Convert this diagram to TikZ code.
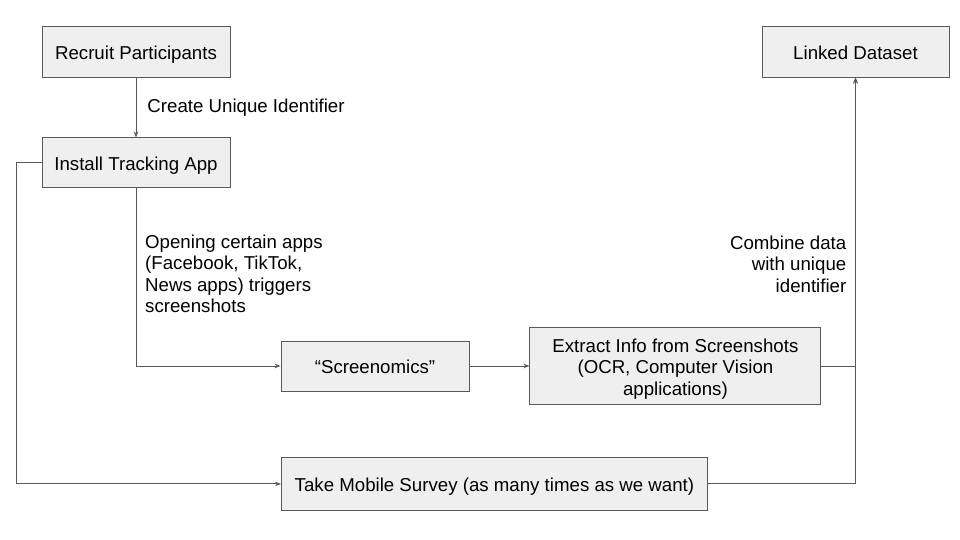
\documentclass[tikz,border=0pt]{standalone}
\usepackage{fontspec}
\setmainfont{Liberation Sans}
\usepackage{xcolor}
\definecolor{BoxGray}{HTML}{EFEFEF}
\definecolor{LineGray}{HTML}{595959}
\usepackage{tikz}
\usetikzlibrary{arrows.meta, positioning}

\begin{document}
\begin{tikzpicture}[
  x=1pt, y=1pt,
  node distance=60pt,
  font=\fontsize{18.67pt}{21.5pt}\selectfont,
  box/.style={rectangle, draw=LineGray, fill=BoxGray, text=black, line width=0.9pt, minimum width=188pt, minimum height=51pt, inner sep=0pt, text height=15.8pt, text depth=0pt},
  note/.style={inner sep=0pt, text=black},
  arrow/.style={-{Stealth[length=6pt,width=4.5pt]}, line width=0.9pt, LineGray}
]
  \useasboundingbox (0,0) rectangle (960,540);

  % Boxes
  \node[box] (recruit) at (136,488.5) {Recruit Participants};
  \node[box, below=60pt of recruit, minimum height=50pt] (install) {Install Tracking App};
  \node[box, minimum height=50pt] (screenomics) at (375,174) {“Screenomics”};
  \node[box, right=60pt of screenomics, minimum width=291pt, minimum height=77pt, align=center, text height=62.5pt, text depth=3.9pt] (extract) {Extract Info from Screenshots\\(OCR, Computer Vision\\applications)};
  \node[box, anchor=north west, minimum width=426pt, minimum height=53pt] (survey) at (281,83) {Take Mobile Survey (as many times as we want)};
  \node[box, minimum width=187pt] (linked) at (855.5,488.5) {Linked Dataset};

  % Labels
  \node[note, align=left, below right=46pt and 9pt of install.south] (trigger) {Opening certain apps\\(Facebook, TikTok,\\News apps) triggers\\screenshots};
  \node[note, align=right, below left=158pt and 9pt of linked.south] (combine) {Combine data\\with unique\\identifier};

  % Arrows
  \draw[arrow] (recruit) -- node[note, right=11pt] {Create Unique Identifier} (install);
  \draw[arrow] (install.south) |- (screenomics.west);
  \draw[arrow] (install.west) -- ++(-25pt,0) |- (survey.west);
  \draw[arrow] (screenomics) -- (extract);
  \draw[arrow] (extract.east) -| (linked.south);
  \draw[arrow] (survey.east) -| (linked.south);
\end{tikzpicture}
\end{document}
